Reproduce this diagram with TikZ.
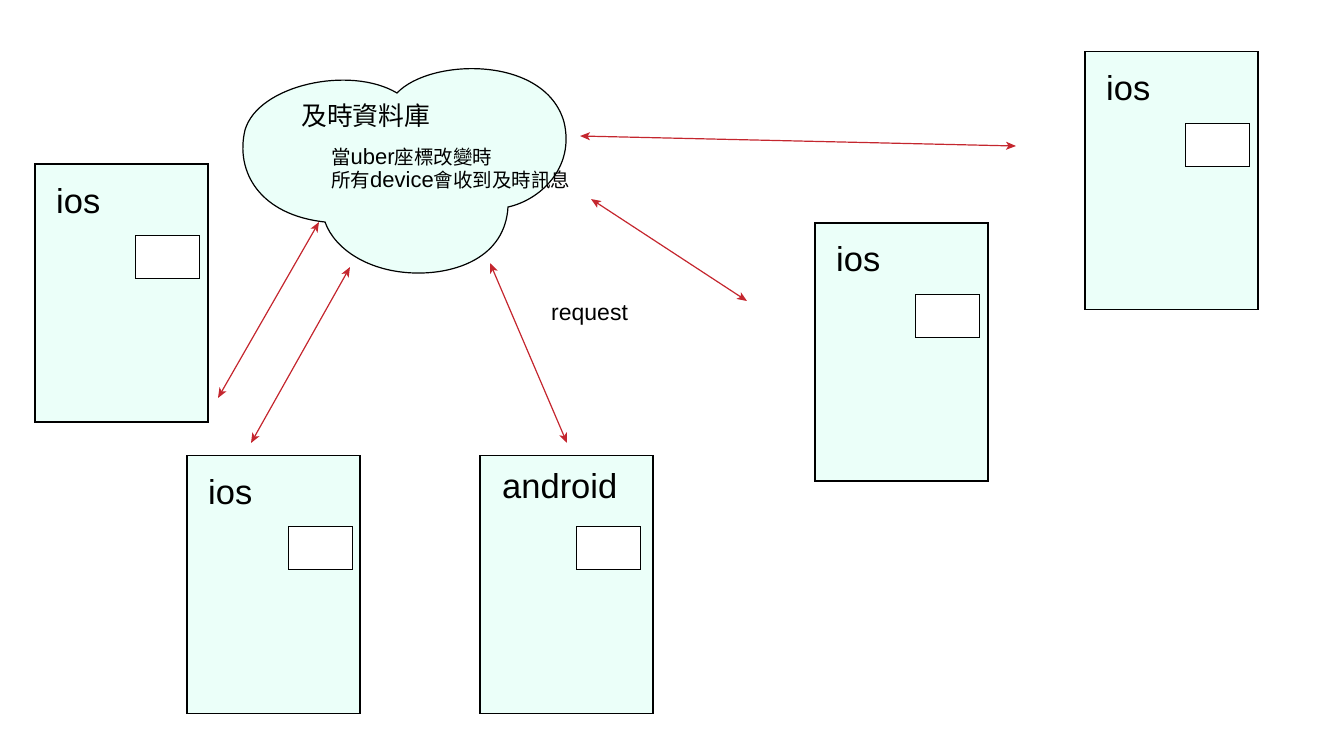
\documentclass[tikz,border=0pt]{standalone}
\usepackage{fontspec}
\setmainfont{Liberation Sans}
\newfontfamily\cjk{Noto Sans CJK TC}
\usetikzlibrary{arrows.meta}
\definecolor{devfill}{HTML}{EBFFF9}
\definecolor{linkred}{HTML}{C4262E}
\newcommand{\lt}[1]{{\fontspec{Liberation Sans}\fontsize{22}{24}\selectfont #1}}
\tikzset{
  device/.style={draw=black,line width=1.3pt,fill=devfill,minimum width=173pt,minimum height=258pt,inner sep=0pt},
  screen/.style={draw=black,line width=1pt,fill=white,minimum width=64pt,minimum height=43pt,inner sep=0pt},
  devlabel/.style={font=\fontsize{34.5}{38}\selectfont,anchor=base west,inner sep=0pt},
  desctext/.style={font=\cjk\fontsize{19.5}{22}\selectfont,anchor=west,inner sep=0pt},
  link/.style={draw=linkred,line width=1.2pt,{Stealth[length=10pt,width=8pt,inset=2.5pt]}-{Stealth[length=10pt,width=8pt,inset=2.5pt]}}
}
\begin{document}
\begin{tikzpicture}[x=1pt,y=-1pt]
\useasboundingbox (0,0) rectangle (1328,755);
% cloud
\draw[line width=1.2pt,fill=devfill] (325,222) .. controls (260,215) and (235,172) .. (245,130)
  .. controls (258,85) and (350,65) .. (397,93)
  .. controls (430,58) and (545,55) .. (564,122)
  .. controls (575,168) and (540,200) .. (508,207)
  .. controls (505,258) and (455,274) .. (415,273)
  .. controls (370,272) and (335,250) .. (325,222) -- cycle;
\node[font=\cjk\fontsize{25.8}{28}\selectfont,anchor=west,inner sep=0pt] (title) at (301,116) {及時資料庫};
\node[desctext] (desc1) at (331,157) {當\lt{uber}座標改變時};
\node[desctext] (desc2) at (331,180) {所有\lt{device}會收到及時訊息};
% devices
\node[device] (d1) at (121.5,293) {};
\node[screen] (s1) at (167.5,256.5) {};
\node[devlabel] (l1) at (56,213) {ios};
\node[device] (d2) at (273.5,584.5) {};
\node[screen] (s2) at (320,547.5) {};
\node[devlabel] (l2) at (208,504) {ios};
\node[device] (d3) at (566.5,584.5) {};
\node[screen] (s3) at (608,547.5) {};
\node[devlabel] (l3) at (502,498) {android};
\node[device] (d4) at (901.5,352) {};
\node[screen] (s4) at (947,315.5) {};
\node[devlabel] (l4) at (836,271) {ios};
\node[device] (d5) at (1171.5,180.5) {};
\node[screen] (s5) at (1217,144.5) {};
\node[devlabel] (l5) at (1106,100) {ios};
\node[font=\fontsize{23}{26}\selectfont,anchor=base west,inner sep=0pt] (req) at (551,320) {request};
% link end points
\coordinate (a1) at (580,136); \coordinate (b1) at (1016,146);
\coordinate (a2) at (591,199); \coordinate (b2) at (747,301);
\coordinate (a3) at (490,263); \coordinate (b3) at (567,443);
\coordinate (a4) at (319,222); \coordinate (b4) at (218,398);
\coordinate (a5) at (350,267); \coordinate (b5) at (251,443);
\draw[link] (a1) -- (b1);
\draw[link] (a2) -- (b2);
\draw[link] (a3) -- (b3);
\draw[link] (a4) -- (b4);
\draw[link] (a5) -- (b5);
\end{tikzpicture}
\end{document}
